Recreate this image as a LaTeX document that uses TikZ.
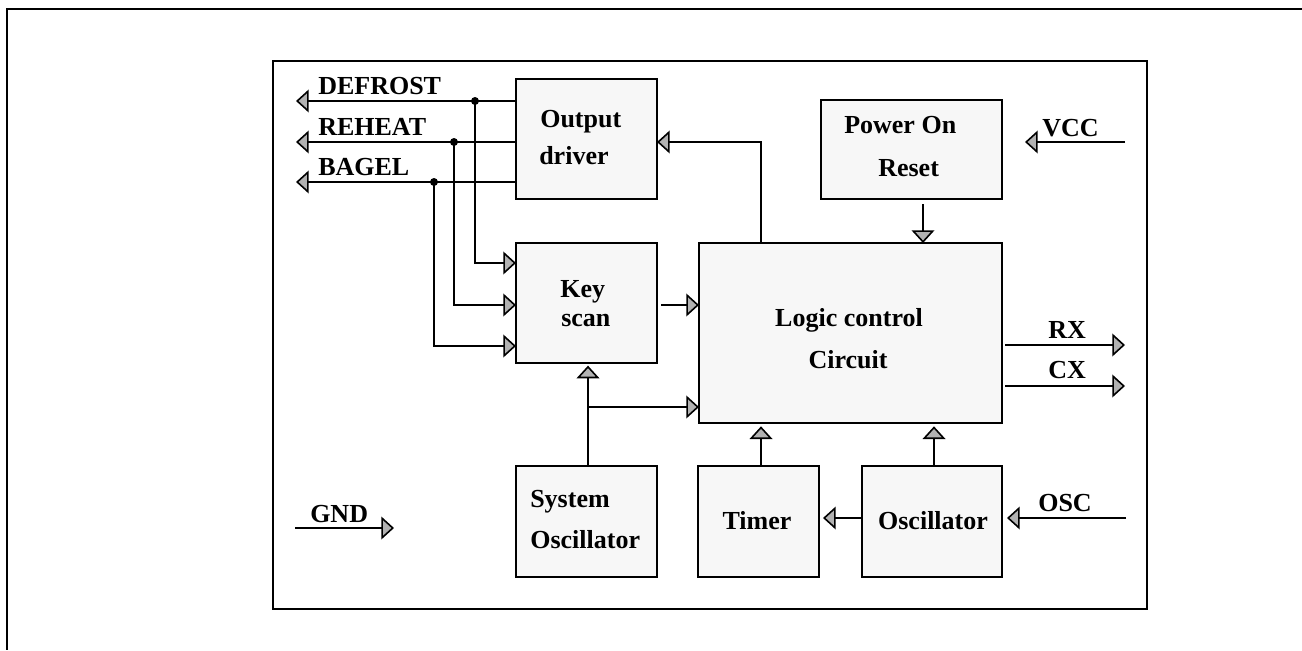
\documentclass[tikz,border=0pt]{standalone}
\usepackage{fontspec}
\setmainfont{Liberation Serif}
\usetikzlibrary{arrows.meta,calc}
\begin{document}
\begin{tikzpicture}[x=0.75pt,y=-0.75pt,
  blk/.style={draw, fill=black!3, line width=1.4pt, inner sep=0pt, outer sep=0pt},
  lbl/.style={inner sep=0pt, anchor=base west, font=\fontsize{19.5}{23}\selectfont\bfseries},
  lblc/.style={inner sep=0pt, anchor=base, font=\fontsize{19.5}{23}\selectfont\bfseries},
  wire/.style={line width=1.4pt},
  arr/.style={wire, -{Triangle[length=9.5pt,width=17pt,fill=black!30,line width=1.2pt]}},
  frame/.style={line width=1.8pt},
  jdot/.style={fill=black}
]
\useasboundingbox (0,0) rectangle (1302,650);
% outer frame (clipped by page)
\draw[frame] (1302,9) -- (7,9) -- (7,650);
% inner frame
\draw[frame] (273,61) rectangle (1147,609);

% blocks
\node[blk, minimum width=105.75pt, minimum height=90pt] (out) at (586.5,139) {};
\node[blk, minimum width=105.75pt, minimum height=90pt] (key) at (586.5,303) {};
\node[blk, minimum width=105.75pt, minimum height=83.25pt] (sys) at (586.5,521.5) {};
\node[blk, minimum width=227.25pt, minimum height=135pt] (logic) at (850.5,333) {};
\node[blk, minimum width=135.75pt, minimum height=74.25pt] (por) at (911.5,149.5) {};
\node[blk, minimum width=90.75pt, minimum height=83.25pt] (timer) at (758.5,521.5) {};
\node[blk, minimum width=105pt, minimum height=83.25pt] (osc) at (932,521.5) {};

% labels
\node[lbl] (tdef) at (318,94) {DEFROST};
\node[lbl] (treh) at (318,135) {REHEAT};
\node[lbl] (tbag) at (318,175) {BAGEL};
\node[lbl] (tout1) at (540,127) {Output};
\node[lbl] (tout2) at (539,164) {driver};
\node[lbl] (tpor1) at (844,133) {Power On};
\node[lbl] (tpor2) at (878,176) {Reset};
\node[lbl] (tvcc) at (1042,136) {VCC};
\node[lbl] (tkey1) at (560,297) {Key};
\node[lbl] (tkey2) at (561,326) {scan};
\node[lblc] (tlog1) at (849,326) {Logic control};
\node[lblc] (tlog2) at (848,368) {Circuit};
\node[lbl] (trx) at (1048,338) {RX};
\node[lbl] (tcx) at (1048,378) {CX};
\node[lbl] (tsys1) at (530,507) {System};
\node[lbl] (tsys2) at (530,548) {Oscillator};
\node[lblc] (ttim) at (757,529) {Timer};
\node[lblc] (tosc) at (933,529) {Oscillator};
\node[lbl] (tosci) at (1038,511) {OSC};
\node[lbl] (tgnd) at (310,522) {GND};

% free ends and junctions
\coordinate (dtip) at (296,101);
\coordinate (rtip) at (296,142);
\coordinate (btip) at (296,182);
\coordinate (dj) at (475,101);
\coordinate (rj) at (454,142);
\coordinate (bj) at (434,182);

% outputs to the left
\draw[arr] (dtip -| out.west) -- (dtip);
\draw[arr] (rtip -| out.west) -- (rtip);
\draw[arr] (btip -| out.west) -- (btip);
\fill[jdot] (dj) circle (4);
\fill[jdot] (rj) circle (4);
\fill[jdot] (bj) circle (4);

% feedback into key scan
\draw[arr] (dj) |- ($(key.north west)+(0,20)$);
\draw[arr] (rj) |- ($(key.west)+(0,2)$);
\draw[arr] (bj) |- ($(key.south west)+(0,-17)$);

% key scan to logic
\coordinate (ks) at ($(key.east)+(4,2)$);
\draw[arr] (ks) -- (ks -| logic.west);

% system oscillator to key scan and logic
\coordinate (sa) at ($(sys.north)+(1.5,0)$);
\draw[arr, shorten >=2pt] (sa) -- (sa |- key.south);
\coordinate (br) at ($(sa |- key.south)+(0,44)$);
\draw[arr] (br) -- (br -| logic.west);

% logic to output driver
\draw[arr] ($(logic.north west)+(62,0)$) |- (out.east |- rtip);

% power on reset to logic
\coordinate (pa) at ($(por.south)+(11.5,5)$);
\draw[arr] (pa) -- (pa |- logic.north);

% VCC
\coordinate (vccin) at (1125,142);
\coordinate (vcctip) at (1025,142);
\draw[arr] (vccin) -- (vcctip);

% RX / CX
\coordinate (rx) at (1125,345);
\coordinate (cx) at (1125,386);
\draw[arr] ($(rx -| logic.east)+(3,0)$) -- (rx);
\draw[arr] ($(cx -| logic.east)+(3,0)$) -- (cx);

% timer and oscillator to logic
\coordinate (ta) at ($(timer.north)+(2.5,0)$);
\coordinate (oa) at ($(osc.north)+(2,0)$);
\draw[arr, shorten >=2.5pt] (ta) -- (ta |- logic.south);
\draw[arr, shorten >=2.5pt] (oa) -- (oa |- logic.south);
\coordinate (ot) at (osc.west |- 0,518);
\draw[arr, shorten >=3pt] (ot) -- (ot -| timer.east);

% OSC input
\coordinate (oscin) at (1126,518);
\coordinate (osctip) at (1007,518);
\draw[arr] (oscin) -- (osctip);

% GND
\coordinate (gndin) at (295,528);
\coordinate (gndtip) at (394,528);
\draw[arr] (gndin) -- (gndtip);
\end{tikzpicture}
\end{document}
